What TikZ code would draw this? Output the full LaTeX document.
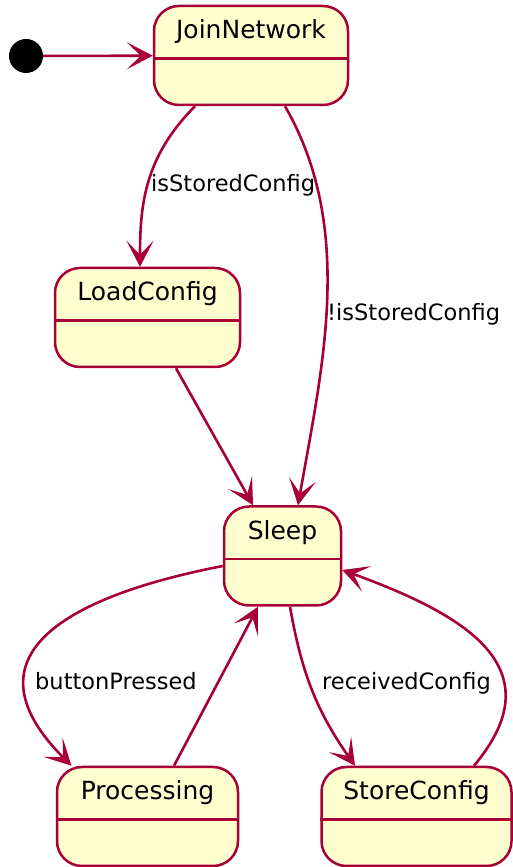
\documentclass[tikz,border=0pt]{standalone}
\usepackage{fontspec}
\setmainfont{DejaVu Sans}
\usetikzlibrary{arrows.meta}
\definecolor{statefill}{HTML}{FEFECE}
\definecolor{stateline}{HTML}{A80036}

\begin{document}
\begin{tikzpicture}[x=1pt,y=1pt]
\tikzset{
state/.style={draw=stateline,fill=statefill,line width=2.5pt,rounded corners=25pt,
  inner xsep=0pt,inner ysep=0pt,text height=33pt,text depth=66pt,
  font={\fontsize{25pt}{30pt}\selectfont}},
init/.style={circle,fill=black,minimum size=34pt,inner sep=0pt},
divider/.style={draw=stateline,line width=2.5pt},
trans/.style={stateline,line width=2.6pt,-{Stealth[length=26pt,width=27pt,inset=14pt]}},
lbl/.style={font={\fontsize{22.5pt}{27pt}\selectfont},text=black,inner sep=0pt,anchor=base west}
}
\useasboundingbox (0,0) rectangle (512,867);

\node[init] (init) at (26,811) {};
\node[state,minimum width=194pt] (join) at (251,811.5) {JoinNetwork};
\node[state,minimum width=185pt] (load) at (147.5,549.5) {LoadConfig};
\node[state,minimum width=117pt] (sleep) at (282.5,311) {Sleep};
\node[state,minimum width=181pt] (proc) at (147.5,50.5) {Processing};
\node[state,minimum width=190pt] (store) at (416.5,50.5) {StoreConfig};

\foreach \s in {join,load,sleep,proc,store}
  \draw[divider] ([yshift=-54pt]\s.north west) -- ([yshift=-54pt]\s.north east);

% transition labels
\node[lbl] (l1) at (151,675) {isStoredConfig};
\node[lbl] (l2) at (327,546) {!isStoredConfig};
\node[lbl] (l3) at (35,177) {buttonPressed};
\node[lbl] (l4) at (322,177) {receivedConfig};

\path[trans]
 (init) edge (join)

 ([xshift=-56pt]join.south) edge[out=-135,in=90,out looseness=1.1,in looseness=0.9] ([xshift=-7.5pt]load.north)
 ([xshift=34pt]join.south) edge[out=-60,in=80,looseness=0.9] ([xshift=15.5pt]sleep.north)

 ([xshift=28.5pt]load.south) edge ([xshift=-29.5pt]sleep.north)

 ([yshift=-10pt]sleep.west) edge[out=-169,in=135,looseness=1.6] ([xshift=-76pt]proc.north)
 ([xshift=26.5pt]proc.north) edge ([xshift=-24.5pt]sleep.south)

 ([xshift=7.5pt]sleep.south) edge[out=-80,in=125] ([xshift=-61.5pt]store.north)
 ([xshift=57.5pt]store.north) edge[out=50,in=-20,looseness=1.4] ([yshift=-14pt]sleep.east)
;
\end{tikzpicture}
\end{document}
